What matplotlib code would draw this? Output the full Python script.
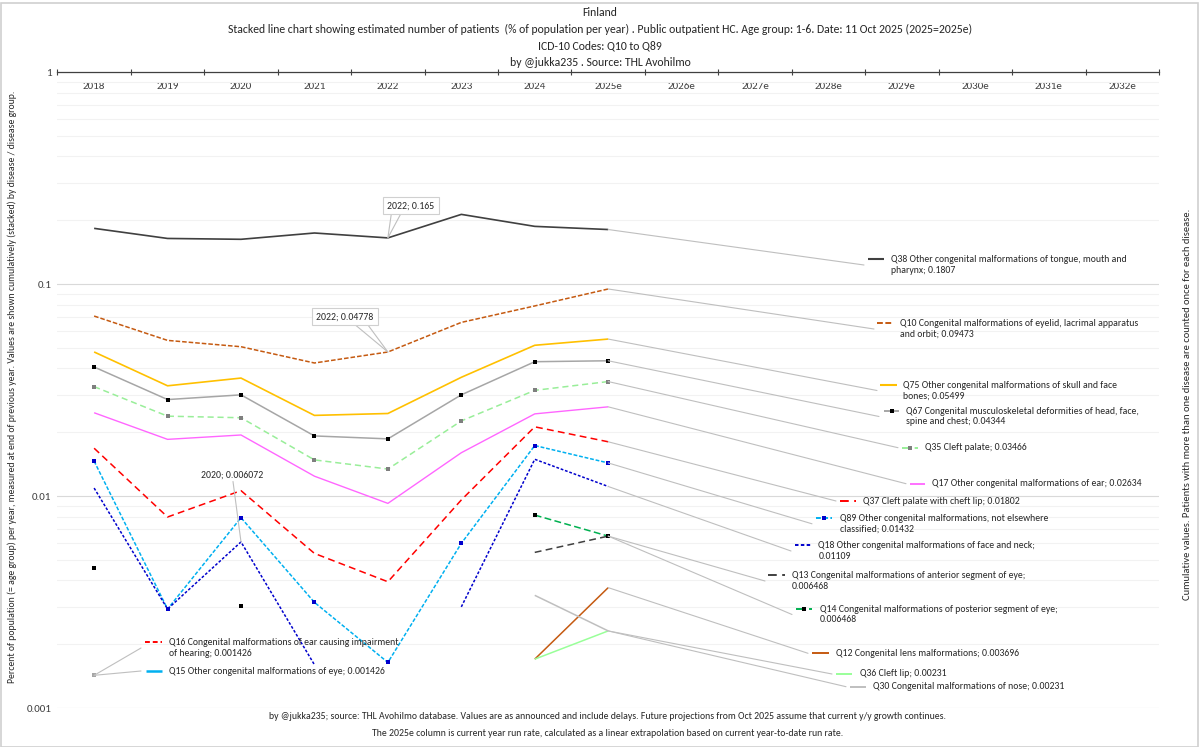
import numpy as np
import matplotlib
matplotlib.use('Agg')
import matplotlib.pyplot as plt
from matplotlib import font_manager
from matplotlib.ticker import FixedLocator, NullFormatter, LogLocator, FixedFormatter
from matplotlib.patches import ConnectionPatch, Rectangle
from matplotlib.lines import Line2D

# ---------------- data ----------------
years = ['2018', '2019', '2020', '2021', '2022', '2023', '2024', '2025e',
         '2026e', '2027e', '2028e', '2029e', '2030e', '2031e', '2032e']
nan = np.nan
q38 = [0.183, 0.164, 0.1625, 0.174, 0.165, 0.213, 0.187, 0.1807]
q10 = [0.0706, 0.0542, 0.0506, 0.0424, 0.04778, 0.0659, 0.0788, 0.09473]
q75 = [0.0478, 0.0331, 0.0360, 0.0240, 0.0245, 0.0363, 0.0514, 0.05499]
q67 = [0.0406, 0.0285, 0.0300, 0.0192, 0.0186, 0.0300, 0.0430, 0.04344]
q35 = [0.0328, 0.0238, 0.0234, 0.0148, 0.0134, 0.0226, 0.0315, 0.03466]
q17 = [0.0247, 0.0185, 0.0194, 0.0124, 0.00923, 0.0160, 0.0244, 0.02634]
q37 = [0.0168, 0.00796, 0.0106, 0.00536, 0.00394, 0.00958, 0.0212, 0.01802]
q89 = [0.0146, 0.00293, 0.00790, 0.00315, 0.00164, 0.00598, 0.0173, 0.01432]
q18 = [0.0109, 0.00293, 0.006072, 0.0016, nan, 0.0030, 0.0149, 0.01109]
q13 = [nan, nan, nan, nan, nan, nan, 0.00542, 0.006468]
q14 = [0.00456, nan, 0.00304, nan, nan, nan, 0.00813, 0.006468]
q12 = [nan, nan, nan, nan, nan, nan, 0.0017, 0.003696]
q36 = [nan, nan, nan, nan, nan, nan, 0.0017, 0.00231]
q30 = [nan, nan, nan, nan, nan, nan, 0.0034, 0.00231]
q16 = [0.001426, nan, nan, nan, nan, nan, nan, nan]
q15 = [0.001426, nan, nan, nan, nan, nan, nan, nan]

series_names = ['Q38', 'Q10', 'Q75', 'Q67', 'Q35', 'Q17', 'Q37', 'Q89', 'Q18',
                'Q13', 'Q14', 'Q12', 'Q36', 'Q30', 'Q16', 'Q15']
series_values = [q38, q10, q75, q67, q35, q17, q37, q89, q18,
                 q13, q14, q12, q36, q30, q16, q15]
series_labels = [
    'Q38 Other congenital malformations of tongue, mouth and\npharynx; 0.1807',
    'Q10 Congenital malformations of eyelid, lacrimal apparatus\nand orbit; 0.09473',
    'Q75 Other congenital malformations of skull and face\nbones; 0.05499',
    'Q67 Congenital musculoskeletal deformities of head, face,\nspine and chest; 0.04344',
    'Q35 Cleft palate; 0.03466',
    'Q17 Other congenital malformations of ear; 0.02634',
    'Q37 Cleft palate with cheft lip; 0.01802',
    'Q89 Other congenital malformations, not elsewhere\nclassified; 0.01432',
    'Q18 Other congenital malformations of face and neck;\n0.01109',
    'Q13 Congenital malformations of anterior segment of eye;\n0.006468',
    'Q14 Congenital malformations of posterior segment of eye;\n0.006468',
    'Q12 Congenital lens malformations; 0.003696',
    'Q36 Cleft lip; 0.00231',
    'Q30 Congenital malformations of nose; 0.00231',
    'Q16 Congenital malformations of ear causing impairment\nof hearing; 0.001426',
    'Q15 Other congenital malformations of eye; 0.001426',
]

# ---------------- styles ----------------
styles = {
    'Q38': dict(color='#404040', lw=1.2, dashes=None, marker=None, mfc=None),
    'Q10': dict(color='#C55A11', lw=1.1, dashes=(3, 1.3), marker=None, mfc=None),
    'Q75': dict(color='#FFC000', lw=1.2, dashes=None, marker=None, mfc=None),
    'Q67': dict(color='#A6A6A6', lw=1.1, dashes=None, marker='s', mfc='#000000'),
    'Q35': dict(color='#99EE99', lw=1.1, dashes=(4, 2.5), marker='s', mfc='#7F7F7F'),
    'Q17': dict(color='#FF66FF', lw=1.0, dashes=None, marker=None, mfc=None),
    'Q37': dict(color='#FF0000', lw=1.1, dashes=(4.5, 2.8), marker=None, mfc=None),
    'Q89': dict(color='#00B0F0', lw=1.1, dashes=(2.5, 1.2), marker='s', mfc='#0000CC'),
    'Q18': dict(color='#0000CC', lw=1.1, dashes=(1.8, 1.2), marker=None, mfc=None),
    'Q13': dict(color='#404040', lw=1.1, dashes=(4.5, 2.8), marker=None, mfc=None),
    'Q14': dict(color='#00B050', lw=1.1, dashes=(4.5, 2.2), marker='s', mfc='#000000'),
    'Q12': dict(color='#C55A11', lw=1.1, dashes=None, marker=None, mfc=None),
    'Q36': dict(color='#99FF99', lw=1.1, dashes=None, marker=None, mfc=None),
    'Q30': dict(color='#BFBFBF', lw=1.1, dashes=None, marker=None, mfc=None),
    'Q16': dict(color='#FF0000', lw=1.1, dashes=(2.5, 1.5), marker='s', mfc='#A6A6A6'),
    'Q15': dict(color='#00B0F0', lw=1.5, dashes=None, marker=None, mfc=None),
}
no_legend_marker = {'Q16'}

# legend layout in image pixels: (sample_x0, sample_x1, label_center_y, text_x, leader_x, anchor_index)
legend_layout = {
    'Q38': (868, 884, 265, 891, 864, 7),
    'Q10': (877, 893, 329, 900, 874, 7),
    'Q75': (880, 897, 390.5, 903, 877, 7),
    'Q67': (884, 899, 416.5, 906, 879, 7),
    'Q35': (902, 918, 447.7, 925, 898, 7),
    'Q17': (910, 925, 483.7, 932, 906, 7),
    'Q37': (840, 856, 501, 863, 836, 7),
    'Q89': (816, 832, 523.8, 839.5, 812, 7),
    'Q18': (795, 811, 551, 818.5, 791, 7),
    'Q13': (768, 785, 581, 791.5, 765, 7),
    'Q14': (796, 812, 614.5, 819.5, 792, 7),
    'Q12': (812, 829, 653.3, 836, 808, 7),
    'Q36': (836, 852, 674, 859.5, 832, 7),
    'Q30': (850, 866, 686.7, 873, 846, 7),
    'Q16': (145, 162, 648, 169, 141, 0),
    'Q15': (146, 162, 671, 169, 141, 0),
}

names = {f.name for f in font_manager.fontManager.ttflist}
FONT = next((n for n in ['Carlito', 'Liberation Sans Narrow', 'Open Sans', 'Liberation Sans']
             if n in names), 'DejaVu Sans')
plt.rcParams['font.family'] = [FONT, 'DejaVu Sans']

TXT = '#404040'
DARK = '#262626'
LEG_FS = 7.0
W, H = 1200, 747
fig = plt.figure(figsize=(12, 7.47), dpi=100)
fig.patch.set_facecolor('white')

x0, x1, ytop, ybot = 57.4, 1159, 72, 708
ax = fig.add_axes([x0 / W, 1 - ybot / H, (x1 - x0) / W, (ybot - ytop) / H])
ax.set_yscale('log')
ax.set_ylim(0.001, 1)
ax.set_xlim(-0.5, len(years) - 0.5)

# overlay axes in image pixel coordinates for texts / legend
ov = fig.add_axes([0, 0, 1, 1], zorder=5)
ov.set_xlim(0, W)
ov.set_ylim(H, 0)
ov.axis('off')
ov.patch.set_alpha(0)

# y axis
ax.yaxis.set_major_locator(FixedLocator([0.001, 0.01, 0.1, 1]))
ax.yaxis.set_major_formatter(FixedFormatter(['0.001', '0.01', '0.1', '1']))
ax.yaxis.set_minor_locator(LogLocator(base=10, subs=np.arange(2, 10)))
ax.yaxis.set_minor_formatter(NullFormatter())
ax.tick_params(axis='y', which='both', length=0, pad=4.5, labelsize=7.9, labelcolor=TXT)
ax.grid(axis='y', which='major', color='#D9D9D9', lw=0.8)
ax.grid(axis='y', which='minor', color='#F2F2F2', lw=0.8)
ax.set_axisbelow(True)

# x axis at the top (value 1)
ax.xaxis.set_ticks_position('top')
ax.set_xticks(np.arange(len(years)))
ax.set_xticklabels(years)
ax.set_xticks(np.arange(-0.5, len(years)), minor=True)
ax.tick_params(axis='x', which='major', length=0, top=True, bottom=False,
               labeltop=True, labelbottom=False, pad=-14, labelsize=7.9, labelcolor=TXT)
ax.tick_params(axis='x', which='minor', length=4.3, width=0.8, direction='inout',
               color=TXT, top=True, bottom=False)
for s in ['left', 'right', 'bottom']:
    ax.spines[s].set_visible(False)
ax.spines['top'].set_color(TXT)
ax.spines['top'].set_linewidth(0.9)

xs = np.arange(8)
for name, vals in zip(series_names, series_values):
    st = styles[name]
    kw = dict(color=st['color'], lw=st['lw'], solid_capstyle='butt', dash_capstyle='butt')
    if st['dashes'] is not None:
        kw['dashes'] = st['dashes']
    if st['marker'] is not None:
        kw.update(marker=st['marker'], ms=2.2, mfc=st['mfc'], mec=st['mfc'], mew=0)
    ax.plot(xs, vals, zorder=3, **kw)

# legend entries with leader lines
for name, vals, lab in zip(series_names, series_values, series_labels):
    st = styles[name]
    sx0, sx1, cy, tx, lx, idx = legend_layout[name]
    cp = ConnectionPatch(xyA=(xs[idx], vals[idx]), coordsA=ax.transData,
                         xyB=(lx, cy), coordsB=ov.transData,
                         color='#BFBFBF', lw=0.8, zorder=2)
    fig.add_artist(cp)
    nl = lab.count('\n')
    sy = cy - 6 * nl
    kw = dict(color=st['color'], lw=st['lw'] + 0.3, solid_capstyle='butt')
    if st['dashes'] is not None:
        kw['dashes'] = st['dashes']
    ov.add_line(Line2D([sx0, sx1], [sy, sy], **kw))
    if st['marker'] is not None and name not in no_legend_marker:
        ov.plot([(sx0 + sx1) / 2], [sy], marker=st['marker'], ms=2.2,
                mfc=st['mfc'], mec=st['mfc'], mew=0)
    ov.text(tx, cy, lab, fontsize=LEG_FS, color=DARK, va='center', ha='left', linespacing=1.22)

# data labels (callouts)
def callout(text, idx, vals, cx, cy, boxed, feet):
    ov.text(cx, cy, text, fontsize=LEG_FS, color=DARK, ha='center', va='center',
            bbox=dict(boxstyle='square,pad=0.4', fc='white', ec='#D0D0D0', lw=0.8) if boxed else None)
    for fx, fy in feet:
        fig.add_artist(ConnectionPatch(xyA=(fx, fy), coordsA=ov.transData,
                                       xyB=(xs[idx], vals[idx]), coordsB=ax.transData,
                                       color='#BFBFBF', lw=0.8, zorder=2))

callout('2022; 0.165', 4, q38, 411, 205.7, True, [(391.5, 212.5), (401.5, 212.5)])
callout('2022; 0.04778', 4, q10, 345, 316.7, True, [(353, 323), (366.5, 323)])
callout('2020; 0.006072', 2, q18, 232, 474.7, False, [(233, 481.5)])

# titles
title_lines = ['Finland',
               'Stacked line chart showing estimated number of patients  (% of population per year) . '
               'Public outpatient HC. Age group: 1-6. Date: 11 Oct 2025 (2025=2025e)',
               'ICD-10 Codes: Q10 to Q89',
               'by @jukka235 . Source: THL Avohilmo']
for t, yy in zip(title_lines, [12, 29, 46, 62.5]):
    ov.text(600, yy, t, fontsize=8.45, color=DARK, ha='center', va='center')

ov.text(607.5, 716.5, 'by @jukka235; source: THL Avohilmo database. Values are as announced and include delays. '
        'Future projections from Oct 2025 assume that current y/y growth continues.',
        fontsize=7.0, color=DARK, ha='center', va='center')
ov.text(608, 733.5, 'The 2025e column is current year run rate, calculated as a linear extrapolation '
        'based on current year-to-date run rate.',
        fontsize=7.0, color=DARK, ha='center', va='center')

ov.text(12, 387, 'Percent of population (= age group) per year, measured at end of previous year. '
        'Values are shown cumulatively (stacked) by disease / disease group.',
        fontsize=7.05, color=DARK, ha='center', va='center', rotation=90)
ov.text(1188, 404, 'Cumulative values. Patients with more than one disease are counted once for each disease.',
        fontsize=7.6, color=DARK, ha='center', va='center', rotation=90)

fig.add_artist(Rectangle((0.5 / W, 0.5 / H), 1 - 3 / W, 1 - 3 / H, transform=fig.transFigure,
                         fill=False, ec='#D0D0D0', lw=1.2))

fig.savefig('out.png', dpi=100, facecolor='white')
